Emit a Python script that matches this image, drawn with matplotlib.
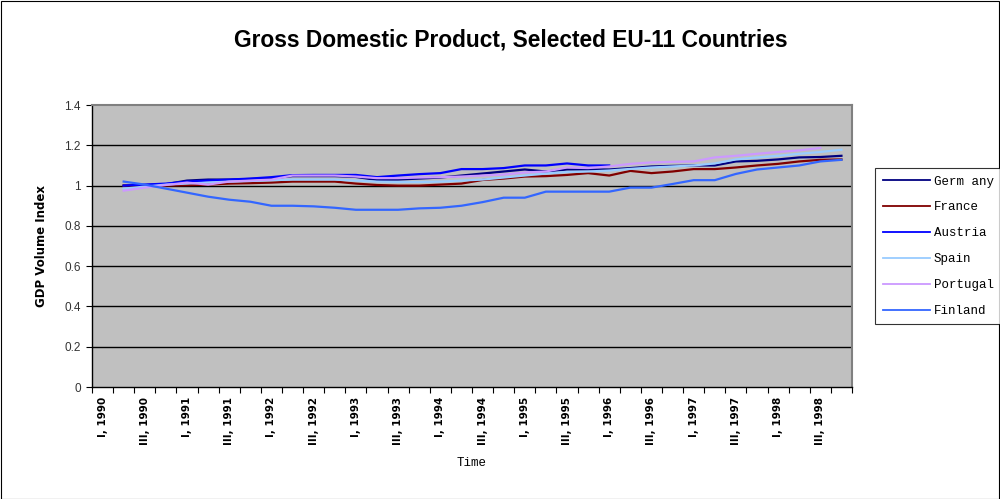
import numpy as np
import matplotlib
matplotlib.use("Agg")
import matplotlib.pyplot as plt
from matplotlib.patches import Rectangle

nan = np.nan
years = list(range(1990, 1999))
quarters = ["I", "II", "III", "IV"]
categories = [f"{q}, {y}" for y in years for q in quarters]

germany = [nan, 1.0, 1.003, 1.007, 1.025, 1.03, 1.03, 1.033, 1.037, 1.047, 1.047, 1.047,
           1.043, 1.028, 1.03, 1.035, 1.04, 1.05, 1.06, 1.07, 1.08, 1.07, 1.08, 1.08,
           1.08, 1.087, 1.095, 1.098, 1.1, 1.1, 1.12, 1.123, 1.13, 1.14, 1.142, 1.148]
france = [nan, 1.0, 1.0, 1.0, 1.002, 1.005, 1.01, 1.012, 1.015, 1.02, 1.02, 1.02,
          1.01, 1.003, 1.0, 1.0, 1.005, 1.01, 1.028, 1.035, 1.045, 1.047, 1.053, 1.062,
          1.05, 1.073, 1.062, 1.07, 1.082, 1.082, 1.09, 1.1, 1.108, 1.12, 1.128, 1.13]
austria = [nan, 1.0, 1.005, 1.01, 1.02, 1.025, 1.03, 1.035, 1.042, 1.052, 1.053, 1.053,
           1.053, 1.042, 1.05, 1.057, 1.062, 1.082, 1.082, 1.087, 1.1, 1.1, 1.11, 1.1,
           1.1, nan, nan, nan, nan, nan, nan, nan, nan, nan, nan, nan]
spain = [nan, 0.985, 0.995, 1.005, 1.01, 1.015, 1.02, 1.023, 1.027, 1.03, 1.03, 1.03,
         1.025, 1.02, 1.018, 1.018, 1.02, 1.025, 1.03, 1.04, 1.05, 1.06, 1.068, 1.07,
         1.075, 1.083, 1.09, 1.095, 1.1, 1.11, 1.13, 1.14, 1.148, 1.158, 1.167, 1.178]
portugal = [nan, 0.975, 0.99, 1.003, 1.015, 1.005, 1.02, 1.025, 1.03, 1.05, 1.05, 1.05,
            1.045, 1.037, 1.037, 1.04, 1.042, 1.045, 1.05, 1.055, 1.065, 1.07, 1.09, 1.087,
            1.095, 1.108, 1.115, 1.118, 1.12, 1.14, 1.148, 1.158, 1.167, 1.175, 1.187, nan]
finland = [nan, 1.02, 1.005, 0.985, 0.965, 0.945, 0.93, 0.92, 0.90, 0.90, 0.897, 0.89,
           0.88, 0.88, 0.88, 0.887, 0.89, 0.90, 0.918, 0.94, 0.94, 0.97, 0.97, 0.97,
           0.97, 0.99, 0.99, 1.008, 1.027, 1.027, 1.058, 1.08, 1.09, 1.10, 1.12, 1.128]

series = [("Germ any", germany, "#000080"),
          ("France", france, "#800000"),
          ("Austria", austria, "#0000FF"),
          ("Spain", spain, "#99CCFF"),
          ("Portugal", portugal, "#CC99FF"),
          ("Finland", finland, "#3366FF")]

yticks = [0, 0.2, 0.4, 0.6, 0.8, 1, 1.2, 1.4]
ytick_labels = ["0", "0.2", "0.4", "0.6", "0.8", "1", "1.2", "1.4"]

fig = plt.figure(figsize=(10, 4.99), dpi=100)
fig.patch.set_facecolor("white")
fig.patches.append(Rectangle((0.0005, 0.001), 0.998, 0.997, transform=fig.transFigure,
                             fill=False, edgecolor="black", linewidth=0.8))

ax = fig.add_axes([0.092, 0.2244, 0.76, 0.5651])
ax.set_facecolor("#C0C0C0")
x = np.arange(len(categories))
for name, vals, col in series:
    ax.plot(x, np.array(vals, dtype=float), color=col, linewidth=1.6, label=name,
            solid_joinstyle="miter")

ax.set_xlim(-0.5, len(categories) - 0.5)
ax.set_ylim(0, 1.4)
ax.set_yticks(yticks)
ax.set_yticklabels(ytick_labels, fontfamily="Liberation Sans", fontsize=8.5, color="#333333")
for yv in yticks[1:-1]:
    ax.axhline(yv, color="black", linewidth=1.0, zorder=0.5)

ax.set_xticks(np.arange(-0.5, len(categories), 1.0))
ax.set_xticklabels([])
ax.set_xticks(x[::2], minor=True)
ax.set_xticklabels(categories[::2], minor=True, rotation=90, fontfamily="DejaVu Sans",
                   fontweight="bold", fontsize=7.5)
ax.tick_params(axis="x", which="major", length=4, direction="out", color="black")
ax.tick_params(axis="x", which="minor", length=0, pad=7)
ax.tick_params(axis="y", length=4, direction="out", color="black", pad=4)

for side in ["top", "right"]:
    ax.spines[side].set_color("#808080")
    ax.spines[side].set_linewidth(1.5)
for side in ["left", "bottom"]:
    ax.spines[side].set_color("black")
    ax.spines[side].set_linewidth(1.0)

ax.set_ylabel("GDP Volume Index", fontfamily="DejaVu Sans", fontweight="bold", fontsize=8.5,
              labelpad=12)
fig.text(0.472, 1 - 463 / 499, "Time", ha="center", va="center",
         fontfamily="Liberation Mono", fontsize=9)

fig.text(0.511, 1 - 40 / 499, "Gross Domestic Product, Selected EU-11 Countries",
         ha="center", va="center", fontfamily="Liberation Sans", fontweight="bold", fontsize=16.4)

leg = fig.legend(loc="upper left", bbox_to_anchor=(0.875, 1 - 168 / 499),
                 prop={"family": "Liberation Mono", "size": 9}, frameon=True,
                 fancybox=False, edgecolor="black", handlelength=3.8, handletextpad=0.3,
                 labelspacing=1.11, borderpad=0.6, borderaxespad=0)
leg.get_frame().set_linewidth(0.8)
for line in leg.get_lines():
    line.set_linewidth(1.3)

fig.savefig("out.png", dpi=100)
